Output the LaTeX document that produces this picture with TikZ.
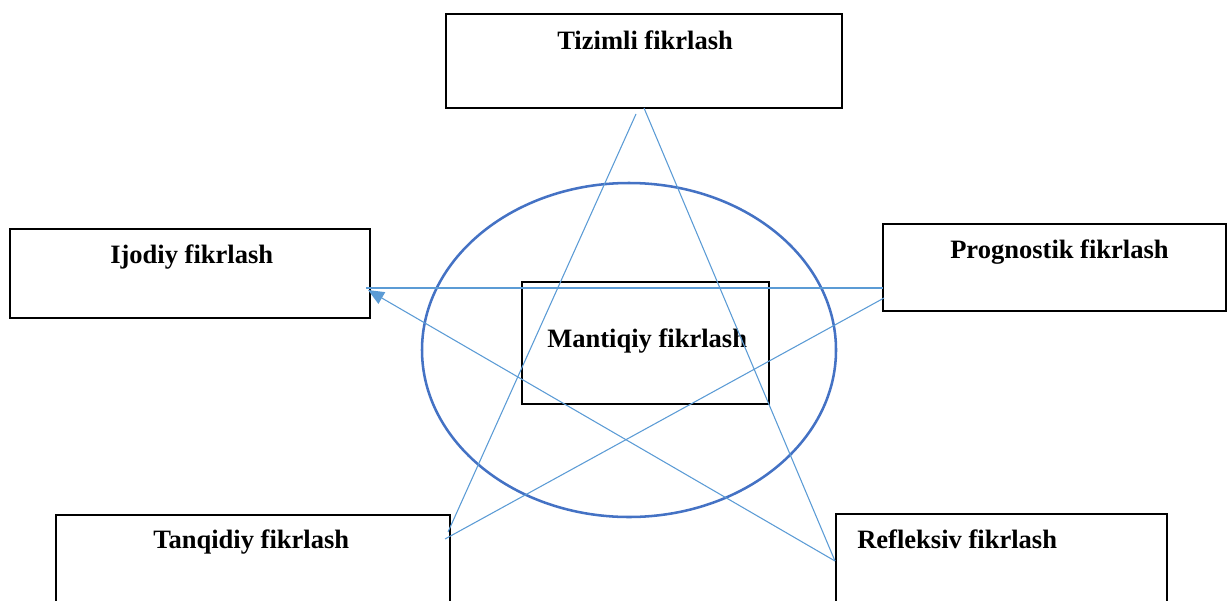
\documentclass[tikz,border=0pt]{standalone}
\usepackage{fontspec}
\setmainfont{Liberation Serif}
\usetikzlibrary{arrows.meta}
\definecolor{linkblue}{RGB}{91,155,213}
\definecolor{ringblue}{RGB}{68,114,196}
\tikzset{
  box/.style={draw=black, line width=0.9pt, rectangle, inner sep=0pt},
  lbl/.style={anchor=base west, inner sep=0pt, font=\bfseries\fontsize{19.9}{23}\selectfont},
  link/.style={draw=linkblue, line width=0.8pt},
  ring/.style={draw=ringblue, line width=1.9pt}
}
\begin{document}
\begin{tikzpicture}[x=0.75pt, y=-0.75pt]
\useasboundingbox (0,0) rectangle (1227,600);
\clip (0,0) rectangle (1227,600);

% central ellipse
\draw[ring] (629,350) ellipse [x radius=207, y radius=167];

% boxes
\node[box, minimum width=396*0.75pt, minimum height=94*0.75pt]  (tiz) at (644,61) {};
\node[box, minimum width=360*0.75pt, minimum height=89*0.75pt]  (ijo) at (190,273.5) {};
\node[box, minimum width=343*0.75pt, minimum height=87*0.75pt]  (pro) at (1054.5,267.5) {};
\node[box, minimum width=247*0.75pt, minimum height=122*0.75pt] (man) at (645.5,343) {};
\node[box, minimum width=394*0.75pt, minimum height=100*0.75pt] (tan) at (253,565) {};
\node[box, minimum width=331*0.75pt, minimum height=100*0.75pt] (ref) at (1001.5,564) {};

% labels
\node[lbl] (tizt) at (557,49)  {Tizimli fikrlash};
\node[lbl] (ijot) at (110,263) {Ijodiy fikrlash};
\node[lbl] (prot) at (950,258) {Prognostik fikrlash};
\node[lbl] (mant) at (547,347) {Mantiqiy fikrlash};
\node[lbl] (tant) at (153,548) {Tanqidiy fikrlash};
\node[lbl] (reft) at (857,548) {Refleksiv fikrlash};

% end points of the star
\coordinate (tizL) at (636,114);
\coordinate (tizR) at (644,108);
\coordinate (proA) at (883,288);
\coordinate (proB) at (884,298);
\coordinate (ijoP) at (366,288);
\coordinate (ijoA) at (368,290);
\coordinate (tanA) at (448,532);
\coordinate (tanB) at (445,539);
\coordinate (refA) at (835,561);

% star connectors
\draw[link] (tizL) -- (tanA);
\draw[link] (tizR) -- (refA);
\draw[link] (proA) -- (ijoP);
\draw[link] (proB) -- (tanB);
\draw[link, -{Triangle[length=12pt, width=10pt]}] (refA) -- (ijoA);
\end{tikzpicture}
\end{document}
